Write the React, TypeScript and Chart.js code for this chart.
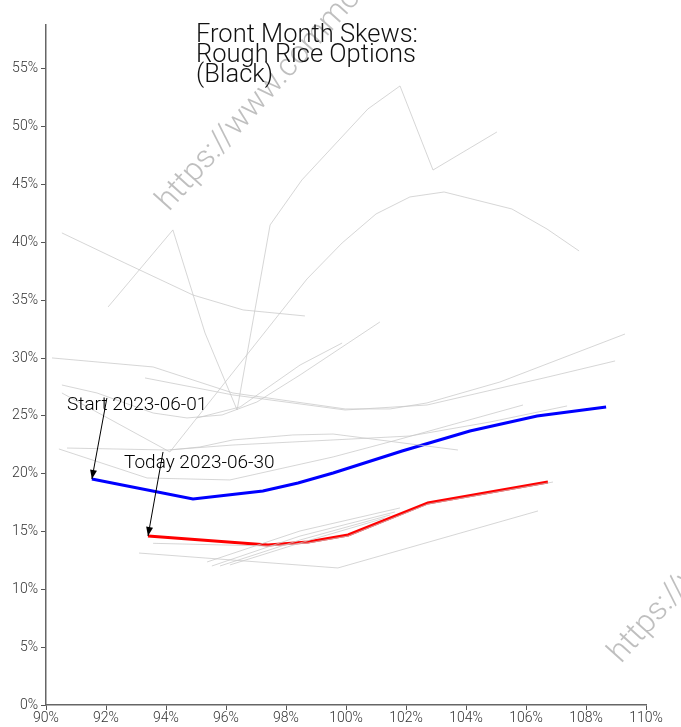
import React, { useEffect, useRef } from "react";
import { Chart, registerables } from "chart.js";

Chart.register(...registerables);

// ---- data (strike % of ATM, implied vol %) ----
const startX = [91.53, 94.9, 97.23, 98.4, 99.57, 101.87, 104.13, 106.37, 108.67];
const startY = [19.54, 17.81, 18.5, 19.2, 20.06, 21.96, 23.69, 24.99, 25.77];
const todayX = [93.4, 97.4, 98.73, 100.07, 102.73, 106.73];
const todayY = [14.61, 13.84, 14.1, 14.7, 17.47, 19.28];

const hist1X = [92.07, 94.23, 95.3, 96.37, 97.47, 98.53, 100.73, 101.8, 102.9, 105.03];
const hist1Y = [34.42, 41.08, 32.17, 25.51, 41.51, 45.4, 51.54, 53.53, 46.26, 49.55];
const hist2X = [90.53, 92.63, 94.9, 96.57, 98.63];
const hist2Y = [40.82, 38.22, 35.45, 34.16, 33.64];
const hist3X = [90.53, 94.13, 98.7, 99.87, 101.0, 102.13, 103.27, 105.53, 106.7, 107.77];
const hist3Y = [26.98, 21.88, 36.84, 39.95, 42.46, 43.93, 44.36, 42.89, 41.16, 39.26];
const hist4X = [90.2, 93.57, 96.23, 99.97, 101.47, 102.7, 105.13, 109.3];
const hist4Y = [30.01, 29.23, 26.98, 25.6, 25.6, 26.12, 27.93, 32.08];
const hist5X = [93.3, 96.23, 99.97, 102.7, 106.73, 108.97];
const hist5Y = [28.28, 26.81, 25.51, 25.94, 28.36, 29.75];
const hist6X = [90.53, 91.7, 93.57, 94.7, 95.87, 97.03, 98.47, 101.13];
const hist6Y = [27.67, 26.98, 25.25, 24.82, 25.08, 26.2, 28.54, 33.12];
const hist7X = [95.03, 96.47, 98.47, 99.87];
const hist7Y = [24.82, 25.77, 29.4, 31.3];
const hist8X = [90.43, 93.37, 96.13, 99.57, 101.7, 105.9];
const hist8Y = [22.14, 19.63, 19.46, 21.45, 22.92, 25.94];
const hist9X = [90.7, 94.03, 96.23, 99.57, 102.13, 104.8, 107.37];
const hist9Y = [22.22, 22.05, 22.48, 22.92, 23.26, 24.47, 25.86];
const hist10X = [94.13, 95.13, 96.23, 98.23, 99.57, 103.73];
const hist10Y = [22.05, 22.31, 22.92, 23.35, 23.43, 22.05];
const hist11X = [93.1, 99.73, 106.4];
const hist11Y = [13.14, 11.85, 16.78];
const hist12X = [93.57, 97.4, 98.73, 100.07, 102.73, 106.9];
const hist12Y = [13.98, 13.75, 14.01, 14.61, 17.38, 19.28];
const hist13X = [95.37, 98.47, 101.8];
const hist13Y = [12.37, 15.05, 17.04];
const hist14X = [95.53, 98.47, 101.63];
const hist14Y = [12.02, 14.61, 16.69];
const hist15X = [95.8, 98.47, 101.47];
const hist15Y = [12.02, 14.27, 16.43];
const hist16X = [96.13, 98.47, 101.3];
const hist16Y = [12.11, 14.01, 16.17];

const historyX = [hist1X, hist2X, hist3X, hist4X, hist5X, hist6X, hist7X, hist8X, hist9X, hist10X, hist11X, hist12X, hist13X, hist14X, hist15X, hist16X];
const historyY = [hist1Y, hist2Y, hist3Y, hist4Y, hist5Y, hist6Y, hist7Y, hist8Y, hist9Y, hist10Y, hist11Y, hist12Y, hist13Y, hist14Y, hist15Y, hist16Y];

const titleLines = ["Front Month Skews:", "Rough Rice Options", "(Black)"];
const startLabel = "Start 2023-06-01";
const todayLabel = "Today 2023-06-30";
const watermark = "https://www.commoditycharts.com";

const X_MIN = 90, X_MAX = 110, X_STEP = 2;
const Y_MIN = 0, Y_MAX = 58.8, Y_STEP = 5;

const pts = (xs: number[], ys: number[]) => xs.map((x, i) => ({ x, y: ys[i] }));

function arrow(ctx: CanvasRenderingContext2D, x1: number, y1: number, x2: number, y2: number) {
  ctx.save();
  ctx.strokeStyle = "#000";
  ctx.fillStyle = "#000";
  ctx.lineWidth = 1;
  ctx.beginPath();
  ctx.moveTo(x1, y1);
  ctx.lineTo(x2, y2);
  ctx.stroke();
  const a = Math.atan2(y2 - y1, x2 - x1);
  const L = 9, W = 3.5;
  ctx.beginPath();
  ctx.moveTo(x2, y2);
  ctx.lineTo(x2 - L * Math.cos(a) + W * Math.sin(a), y2 - L * Math.sin(a) - W * Math.cos(a));
  ctx.lineTo(x2 - L * Math.cos(a) - W * Math.sin(a), y2 - L * Math.sin(a) + W * Math.cos(a));
  ctx.closePath();
  ctx.fill();
  ctx.restore();
}

const decorPlugin = {
  id: "decor",
  beforeDatasetsDraw(chart: any) {
    const ctx = chart.ctx as CanvasRenderingContext2D;
    ctx.save();
    ctx.fillStyle = "rgba(180,180,180,0.85)";
    ctx.font = "300 32px Roboto";
    ctx.textBaseline = "alphabetic";
    const spots = [[169, 212], [621, 664]];
    for (const [x, y] of spots) {
      ctx.save();
      ctx.translate(x, y);
      ctx.rotate((-48 * Math.PI) / 180);
      ctx.fillText(watermark, 0, 0);
      ctx.restore();
    }
    ctx.restore();
  },
  afterDraw(chart: any) {
    const ctx = chart.ctx as CanvasRenderingContext2D;
    const xs = chart.scales.x, ys = chart.scales.y;
    ctx.save();
    // title
    ctx.fillStyle = "#111";
    ctx.font = "300 25.5px Roboto";
    ctx.textBaseline = "alphabetic";
    ctx.textAlign = "left";
    titleLines.forEach((t, i) => ctx.fillText(t, 196, 42 + i * 20));
    // annotations
    ctx.font = "300 19px Roboto";
    ctx.textBaseline = "middle";
    ctx.fillStyle = "#000";
    ctx.fillText(startLabel, xs.getPixelForValue(90.7), ys.getPixelForValue(25.94));
    ctx.fillText(todayLabel, xs.getPixelForValue(92.6), ys.getPixelForValue(20.93));
    arrow(ctx, xs.getPixelForValue(92.03), ys.getPixelForValue(26.55), xs.getPixelForValue(startX[0]), ys.getPixelForValue(startY[0]));
    arrow(ctx, xs.getPixelForValue(93.9), ys.getPixelForValue(21.88), xs.getPixelForValue(todayX[0]), ys.getPixelForValue(todayY[0]));
    ctx.restore();
  },
};

export default function App() {
  const ref = useRef<HTMLCanvasElement>(null);
  useEffect(() => {
    if (!ref.current) return;
    const grayDs = historyX.map((xs, i) => ({
      data: pts(xs, historyY[i]),
      borderColor: "rgba(200,200,200,0.75)",
      borderWidth: 1,
      pointRadius: 0,
      tension: 0,
    }));
    const tickFont = { family: "Roboto", size: 14, weight: "300" as any };
    const chart = new Chart(ref.current, {
      type: "line",
      data: {
        datasets: [
          ...grayDs,
          { data: pts(startX, startY), borderColor: "#0000ff", borderWidth: 3, pointRadius: 0, tension: 0 },
          { data: pts(todayX, todayY), borderColor: "#ff0000", borderWidth: 3, pointRadius: 0, tension: 0 },
        ],
      },
      options: {
        responsive: false,
        animation: false,
        devicePixelRatio: 1,
        layout: { padding: { top: 25, right: 35, left: 0, bottom: 0 } },
        plugins: { legend: { display: false }, tooltip: { enabled: false }, title: { display: false } },
        scales: {
          x: {
            type: "linear",
            min: X_MIN,
            max: X_MAX,
            border: { display: true, color: "#666", width: 1.5 },
            grid: { display: true, drawOnChartArea: false, drawTicks: true, tickLength: 5, color: "#555" },
            ticks: { stepSize: X_STEP, color: "#333", font: tickFont, padding: 0, maxRotation: 0, callback: (v: any) => `${v}%` },
            afterFit: (s: any) => { s.height = 22; },
          },
          y: {
            type: "linear",
            min: Y_MIN,
            max: Y_MAX,
            border: { display: true, color: "#666", width: 1.5 },
            grid: { display: true, drawOnChartArea: false, drawTicks: true, tickLength: 5, color: "#555" },
            ticks: { stepSize: Y_STEP, includeBounds: false, color: "#333", font: tickFont, padding: 3, callback: (v: any) => `${v}%` },
            afterFit: (s: any) => { s.width = 46; },
          },
        },
      },
      plugins: [decorPlugin],
    });
    return () => chart.destroy();
  }, []);
  return (
    <div style={{ position: "fixed", left: 0, top: 0, width: 681, height: 727, background: "#fff" }}>
      <canvas ref={ref} width={681} height={727} style={{ width: 681, height: 727, display: "block" }} />
    </div>
  );
}
